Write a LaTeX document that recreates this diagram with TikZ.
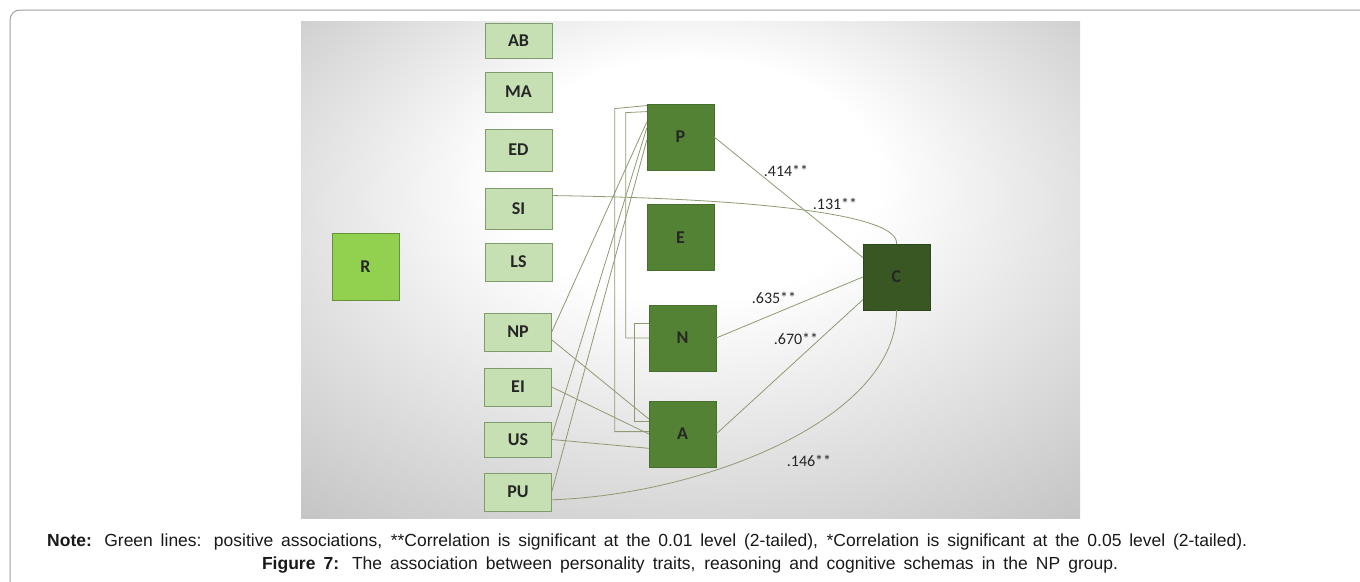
\documentclass[tikz,border=0pt]{standalone}
\usepackage{fontspec}
\setmainfont{Liberation Sans}
\newfontfamily\boxfont{Carlito}
\usepackage{tikz}
\usepackage{xcolor}
\definecolor{lightbox}{HTML}{C6E0B4}
\definecolor{lightedge}{HTML}{7E9C6C}
\definecolor{midgreen}{HTML}{548235}
\definecolor{darkgreen}{HTML}{385723}
\definecolor{limegreen}{HTML}{92D050}
\definecolor{linkcol}{HTML}{8E9A74}
\definecolor{framecol}{HTML}{A0A0A0}
\pgfdeclareradialshading{panelglow}{\pgfpoint{0bp}{12bp}}{color(0bp)=(white); color(12bp)=(white); color(50bp)=(gray!68)}

\begin{document}
\begin{tikzpicture}[x=1pt, y=-1pt,
		trait/.style={draw=lightedge, fill=lightbox, minimum width=67pt, minimum height=38pt, inner sep=0pt, font=\boxfont\bfseries\fontsize{18}{18}\selectfont, text=black!85},
		factor/.style={draw=midgreen!85!black, fill=midgreen, minimum width=67pt, minimum height=66pt, inner sep=0pt, font=\boxfont\bfseries\fontsize{18}{18}\selectfont, text=black!85},
		link/.style={draw=linkcol, line width=0.8pt},
		coef/.style={font=\boxfont\fontsize{16}{16}\selectfont, text=black!85},
		capline/.style={inner sep=0pt, font=\fontsize{17.5}{17.5}\selectfont, text=black!90}]
	\useasboundingbox (0, 0) rectangle (1360, 581);
	% frame and shaded panel
	\draw [framecol, line width=1pt, rounded corners=10pt] (10, 600) -- (10, 10) -- (1380, 10);
	\shade [shading=panelglow] (301, 21) rectangle (1080, 518);
	% schemas
	\node [trait, minimum height=35pt] (AB) at (518.5, 40.5) {AB};
	\node [trait, minimum height=40pt] (MA) at (518.5, 92) {MA};
	\node [trait, minimum height=42pt] (ED) at (518.5, 150) {ED};
	\node [trait, minimum height=41pt] (SI) at (518.5, 208.5) {SI};
	\node [trait] (LS) at (518.5, 262) {LS};
	\node [trait] (NP) at (518, 332) {NP};
	\node [trait] (EI) at (518, 387) {EI};
	\node [trait, minimum height=35pt] (US) at (518, 439.5) {US};
	\node [trait] (PU) at (518, 492) {PU};
	% traits, reasoning
	\node [factor] (P) at (680.5, 137) {P};
	\node [factor] (E) at (680.5, 237.5) {E};
	\node [factor] (N) at (682.5, 338) {N};
	\node [factor] (A) at (682.5, 434) {A};
	\node [factor, fill=darkgreen, draw=darkgreen!80!black] (C) at (896.5, 277) {C};
	\node [factor, fill=limegreen, draw=limegreen!70!black, minimum height=67pt] (R) at (365.5, 266.5) {R};
	% links to C
	\draw [link] (P.east) -- (C.150);
	\draw [link] (N.east) -- (C.west);
	\draw [link] (A.east) -- (C.214);
	\draw [link] (SI.21) .. controls +(208, 3) and +(3, -29) .. (C.north);
	\draw [link] (PU.-13) .. controls +(149, -5) and +(0, 110) .. (C.south);
	% elbows between P, N and A
	\draw [link] (P.137) -- ++(-32, 3) |- (A.176);
	\draw [link] (P.143) -- ++(-21, 1) |- (N.west);
	\draw [link] (N.156) -- ++(-14, 0) |- (A.160);
	% schemas to P and A
	\draw [link] (NP.east) -- (P.156);
	\draw [link] (US.5) -- (P.165);
	\draw [link] (PU.east) -- (P.185);
	\draw [link] (NP.-13) -- (A.156);
	\draw [link] (EI.east) -- (A.west);
	\draw [link] (US.east) -- (A.203);
	% coefficients
	\node [coef] (r414) at (786, 171) {.414**};
	\node [coef] (r131) at (835, 204) {.131**};
	\node [coef] (r635) at (774, 298) {.635**};
	\node [coef] (r670) at (796, 339) {.670**};
	\node [coef] (r146) at (809, 461) {.146**};
	% caption
	\node [capline, anchor=base west] (note) at (47, 546) {\makebox[1200pt][s]{\textbf{Note:} Green lines: positive associations, **Correlation is significant at the 0.01 level (2-tailed), *Correlation is significant at the 0.05 level (2-tailed).}};
	\node [capline, anchor=base] (figcap) at (690, 569) {\makebox[856pt][s]{\textbf{Figure 7:} The association between personality traits, reasoning and cognitive schemas in the NP group.}};
\end{tikzpicture}
\end{document}
